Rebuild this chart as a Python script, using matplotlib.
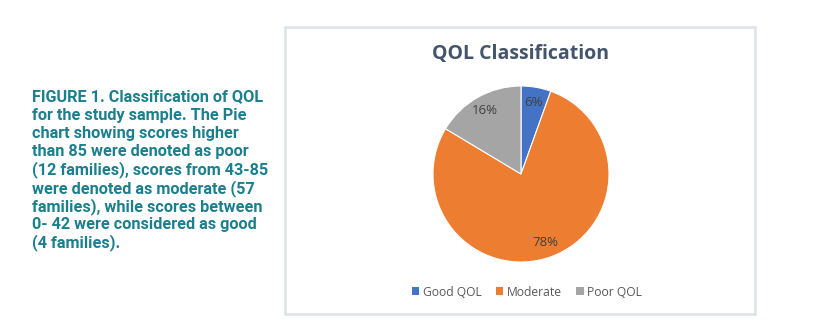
import matplotlib
matplotlib.use("Agg")
import matplotlib.pyplot as plt
from matplotlib.patches import Rectangle, Patch

categories = ["Good QOL", "Moderate", "Poor QOL"]
shares = [5.5, 78.1, 16.4]
colors = ["#4472c4", "#ed7d31", "#a5a5a5"]
title = "QOL Classification"
caption_lines = [
    "FIGURE 1. Classification of QOL",
    "for the study sample. The Pie",
    "chart showing scores higher",
    "than 85 were denoted as poor",
    "(12 families), scores from 43-85",
    "were denoted as moderate (57",
    "families), while scores between",
    "0- 42 were considered as good",
    "(4 families).",
]

W, H = 823, 335
fig = plt.figure(figsize=(W / 100, H / 100), dpi=100)
fig.patch.set_facecolor("white")

def fx(x):
    return x / W

def fy(y):
    return 1 - y / H

# chart frame
bl, br, bt, bb = 285, 755, 27, 314
fig.patches.append(Rectangle((fx(bl), fy(bb)), fx(br - bl), (bb - bt) / H,
                             transform=fig.transFigure, facecolor="none",
                             edgecolor="#dde3e8", linewidth=1.8, zorder=-1))

# caption text
y0 = 97
for i, line in enumerate(caption_lines):
    fig.text(fx(32), fy(y0 + i * 18.25), line, ha="left", va="center",
             fontsize=11.7, fontweight="bold", family="Roboto", color="#1b7f8e")

# title
fig.text(fx(521), fy(54), title, ha="center", va="center", fontsize=14,
         fontweight="bold", family="Open Sans", color="#44546a")

# pie
cx, cy, r = 521, 174, 88
ax = fig.add_axes([fx(cx - r), fy(cy + r), 2 * r / W, 2 * r / H])
wedges, texts, autotexts = ax.pie(
    shares, colors=colors, startangle=90, counterclock=False,
    autopct=lambda p: f"{p:.0f}%", pctdistance=0.83,
    wedgeprops=dict(linewidth=0.8, edgecolor="white"),
    textprops=dict(fontsize=9.5, color="#404040", family="Open Sans"))
ax.set_xlim(-1, 1)
ax.set_ylim(-1, 1)
ax.set_aspect("equal")
ax.axis("off")

handles = [Patch(facecolor=c, edgecolor="none") for c in colors]
fig.legend(handles, categories, loc="center", bbox_to_anchor=(fx(527), fy(292)),
           ncol=3, frameon=False, handlelength=0.6, handleheight=0.6,
           handletextpad=0.3, columnspacing=1.2,
           prop=dict(family="Open Sans", size=8.7), labelcolor="#595959")

fig.savefig("out.png", dpi=100, facecolor="white")
